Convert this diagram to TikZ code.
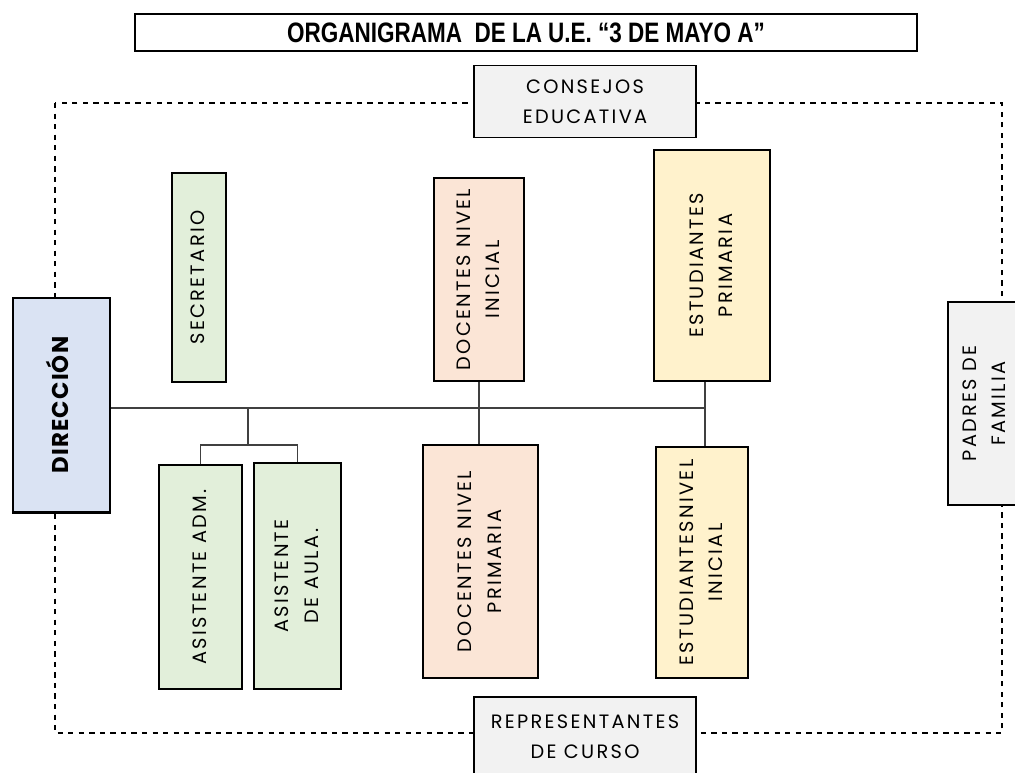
\documentclass[tikz,border=0pt]{standalone}
\usepackage{fontspec}
\setmainfont{Poppins}[LetterSpace=12]
\newfontfamily\dirfont{Poppins}[LetterSpace=5]
\newfontfamily\titlefont[FakeStretch=0.8]{Liberation Sans Bold}
\usepackage{graphicx}
\definecolor{dirblue}{HTML}{DAE3F3}
\definecolor{secgreen}{HTML}{E2EFDA}
\definecolor{docpeach}{HTML}{FBE5D6}
\definecolor{estyellow}{HTML}{FFF2CC}
\definecolor{outgray}{HTML}{F2F2F2}
\definecolor{linegray}{HTML}{404040}
\newcommand{\vtext}[1]{\rotatebox{90}{\begin{tabular}{@{}c@{}}#1\end{tabular}}}

\begin{document}
\begin{tikzpicture}[x=0.2mm, y=-0.2mm, font=\fontsize{11}{17}\selectfont,
    box/.style = {draw, line width=0.8pt, inner sep=0pt, align=center},
    line/.style = {draw=linegray, line width=0.9pt}]
    \useasboundingbox (0,0) rectangle (1015,772);

    % frame
    \coordinate (fnw) at (55,103);
    \coordinate (fse) at (1002,733);
    \draw[dashed, line width=0.7pt] (fnw) rectangle (fse);

    \node[box, minimum width=782*0.2mm, minimum height=37*0.2mm] (tit) at (526,32.5)
        {\titlefont\fontsize{16}{18}\selectfont ORGANIGRAMA\ \ DE LA U.E. “3 DE MAYO A”};
    \node[box, fill=outgray, minimum width=222*0.2mm, minimum height=72*0.2mm] (con) at (585,101.5)
        {CONSEJOS\\EDUCATIVA};
    \node[box, fill=outgray, minimum width=222*0.2mm, minimum height=80*0.2mm] (rep) at (585,737)
        {REPRESENTANTES\\DE CURSO};
    \node[box, fill=outgray, minimum width=74*0.2mm, minimum height=203*0.2mm] (pad) at (985,403.5)
        {\vtext{PADRES DE\\FAMILIA}};
    \node[box, fill=dirblue, line width=1.7pt, minimum width=97*0.2mm, minimum height=214*0.2mm] (dir) at (61.5,405)
        {\vtext{\dirfont\fontsize{13}{15}\selectfont\bfseries DIRECCIÓN}};

    \node[box, fill=secgreen, minimum width=54*0.2mm, minimum height=209*0.2mm] (sec) at (199,277.5)
        {\vtext{SECRETARIO}};
    \node[box, fill=secgreen, minimum width=83*0.2mm, minimum height=224*0.2mm] (aa) at (200.5,577)
        {\vtext{ASISTENTE ADM.}};
    \node[box, fill=secgreen, minimum width=87*0.2mm, minimum height=226*0.2mm] (ab) at (297.5,576)
        {\vtext{ASISTENTE\\DE AULA.}};
    \node[box, fill=docpeach, minimum width=90*0.2mm, minimum height=203*0.2mm] (dni) at (479,279.5)
        {\vtext{DOCENTES NIVEL\\INICIAL}};
    \node[box, fill=docpeach, minimum width=115*0.2mm, minimum height=233*0.2mm] (dnp) at (480.5,561.5)
        {\vtext{DOCENTES NIVEL\\PRIMARIA}};
    \node[box, fill=estyellow, minimum width=116*0.2mm, minimum height=231*0.2mm] (ep) at (712,265.5)
        {\vtext{ESTUDIANTES\\PRIMARIA}};
    \node[box, fill=estyellow, minimum width=92*0.2mm, minimum height=231*0.2mm] (ein) at (702,562.5)
        {\vtext{ESTUDIANTESNIVEL\\INICIAL}};

    % tree edges
    \coordinate (c1) at (248,408);
    \coordinate (c2) at (248,445);
    \coordinate (c3) at (705,408);
    \draw[line] (dir.east |- c1) -- (c3);
    \draw[line] (c1) -- (c2);
    \draw[line] (aa.north) |- (c2) -| (ab.north);
    \draw[line] (dni.south) -- (dni.south |- dnp.north);
    \draw[line] (ep.south -| c3) -- (ein.north -| c3);
\end{tikzpicture}
\end{document}
